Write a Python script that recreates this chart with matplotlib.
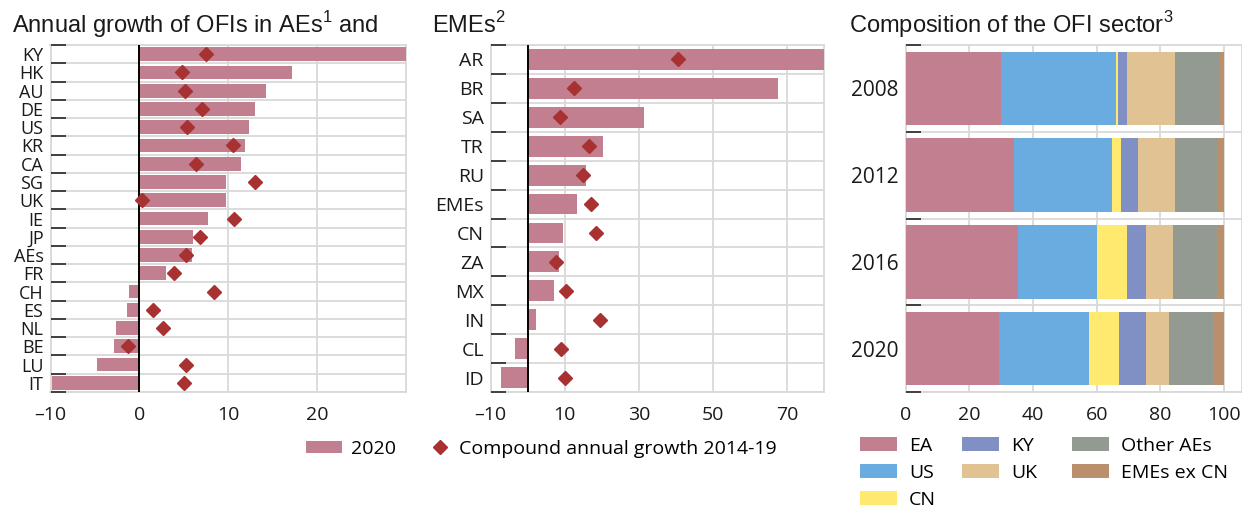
import matplotlib
matplotlib.use("Agg")
import matplotlib.pyplot as plt
import numpy as np
from matplotlib.patches import Patch
from matplotlib.lines import Line2D

plt.rcParams['font.family'] = ['Open Sans', 'DejaVu Sans']
plt.rcParams['mathtext.fontset'] = 'custom'
plt.rcParams['mathtext.rm'] = 'Liberation Sans'

# ---- data ----
ae_labels = ["KY", "HK", "AU", "DE", "US", "KR", "CA", "SG", "UK", "IE", "JP",
             "AEs", "FR", "CH", "ES", "NL", "BE", "LU", "IT"]
ae_2020 = [30.0, 17.2, 14.3, 13.0, 12.3, 11.9, 11.4, 9.7, 9.7, 7.7, 6.0,
           5.9, 3.0, -1.2, -1.4, -2.6, -2.8, -4.8, -9.8]
ae_cagr = [7.5, 4.8, 5.1, 7.1, 5.4, 10.5, 6.4, 13.0, 0.3, 10.6, 6.8,
           5.2, 3.9, 8.4, 1.5, 2.7, -1.3, 5.2, 5.0]

eme_labels = ["AR", "BR", "SA", "TR", "RU", "EMEs", "CN", "ZA", "MX", "IN", "CL", "ID"]
eme_2020 = [80.0, 67.6, 31.4, 20.3, 15.7, 13.2, 9.5, 8.4, 7.0, 2.2, -3.4, -7.2]
eme_cagr = [40.5, 12.4, 8.6, 16.6, 14.8, 17.2, 18.5, 7.6, 10.4, 19.4, 9.1, 10.1]

years = ["2008", "2012", "2016", "2020"]
comp_names = ["EA", "US", "CN", "KY", "UK", "Other AEs", "EMEs ex CN"]
comp_EA = [29.9, 34.0, 35.2, 29.3]
comp_US = [36.2, 30.8, 24.9, 28.3]
comp_CN = [0.5, 2.8, 9.4, 9.4]
comp_KY = [2.9, 5.4, 6.0, 8.5]
comp_UK = [15.1, 11.6, 8.5, 7.2]
comp_OtherAEs = [14.0, 13.5, 13.8, 13.8]
comp_EMEsExCN = [1.4, 1.9, 2.2, 3.5]

# ---- styles ----
BAR = "#c27f8f"
DIAM = "#a83232"
GRID = "#d9d9d9"
TXT = "#1a1a1a"
comp_colors = ["#c27f8f", "#6aace0", "#ffe96e", "#8190c4", "#e1c292", "#939a91", "#b98f6c"]
XFS = 14
LFS = 14
TFS = 17
TITLE_FONT = ['Liberation Sans', 'DejaVu Sans']

W, H = 1242, 509
fig = plt.figure(figsize=(W / 100, H / 100), dpi=100)


def fax(x0, x1, y0, y1):
    return fig.add_axes([x0 / W, 1 - y1 / H, (x1 - x0) / W, (y1 - y0) / H])


def style_axes(ax, n, xticks, xlim, yfs):
    ax.set_xlim(*xlim)
    ax.set_ylim(n - 0.5, -0.5)
    ax.set_xticks(xticks)
    ax.set_yticks(np.arange(n))
    ax.set_yticks(np.arange(n + 1) - 0.5, minor=True)
    ax.tick_params(axis='y', which='major', length=0, pad=5, labelsize=yfs, colors=TXT)
    ax.tick_params(axis='y', which='minor', length=11, width=1.3, direction='in', color="#333333")
    ax.tick_params(axis='x', which='both', length=0, pad=10, labelsize=XFS, colors=TXT)
    for b in np.arange(n + 1) - 0.5:
        ax.axhline(b, color=GRID, lw=1.3, zorder=0)
    ax.set_axisbelow(True)
    for s in ax.spines.values():
        s.set_color(GRID)
        s.set_linewidth(1.3)
        s.set_zorder(0.2)


def growth_panel(ax, labels, v2020, vcagr, xticks, xlim, gridx, h, yfs):
    n = len(labels)
    y = np.arange(n)
    style_axes(ax, n, xticks, xlim, yfs)
    for gx in gridx:
        ax.axvline(gx, color=GRID, lw=1.3, zorder=0)
    ax.barh(y, v2020, height=h, color=BAR, zorder=2)
    ax.axvline(0, color="black", lw=1.4, zorder=3)
    ax.plot(vcagr, y, linestyle="none", marker="D", markersize=7, color=DIAM, zorder=4)
    ax.set_yticklabels(labels)
    ax.set_xticklabels(["\u2013" + str(-t) if t < 0 else str(t) for t in xticks])


ax1 = fax(50.5, 406, 45, 392)
growth_panel(ax1, ae_labels, ae_2020, ae_cagr, [-10, 0, 10, 20], (-10, 30), [10, 20], 0.75, 13)

ax2 = fax(490.7, 824, 45, 392)
growth_panel(ax2, eme_labels, eme_2020, eme_cagr, [-10, 10, 30, 50, 70], (-10, 80),
             [10, 30, 50, 70], 0.72, 14)

ax3 = fax(905.7, 1242, 45, 392)
style_axes(ax3, len(years), [0, 20, 40, 60, 80, 100], (0, 105.6), 15)
for gx in [20, 40, 60, 80, 100]:
    ax3.axvline(gx, color=GRID, lw=1.3, zorder=0)
comp_series = [comp_EA, comp_US, comp_CN, comp_KY, comp_UK, comp_OtherAEs, comp_EMEsExCN]
left = np.zeros(len(years))
yy = np.arange(len(years))
for vals, col, name in zip(comp_series, comp_colors, comp_names):
    ax3.barh(yy, vals, left=left, height=0.85, color=col, zorder=2, label=name)
    left += np.array(vals)
ax3.set_yticklabels(years)
ax3.set_xticklabels([str(t) for t in [0, 20, 40, 60, 80, 100]])

# titles
for x, s in [(12, r"Annual growth of OFIs in AEs$^{1}$ and"), (432, r"EMEs$^{2}$"),
             (849, r"Composition of the OFI sector$^{3}$")]:
    fig.text(x / W, 1 - 33 / H, s, fontsize=TFS, color=TXT, family=TITLE_FONT, va='baseline')

# legend for growth panels
common = dict(frameon=False, fontsize=LFS, borderaxespad=0, borderpad=0)
fig.legend([Patch(facecolor=BAR, edgecolor="none")], ["2020"], loc="center left",
           bbox_to_anchor=(306 / W, 1 - 449 / H), handlelength=1.85, handleheight=0.62,
           handletextpad=0.46, **common)
fig.legend([Line2D([], [], linestyle="none", marker="D", markersize=7, color=DIAM)],
           ["Compound annual growth 2014-19"], loc="center left",
           bbox_to_anchor=(430 / W, 1 - 449 / H), handlelength=1.0, handletextpad=0.48,
           **common)

# legend for composition panel (three columns)
handles3 = [Patch(facecolor=c, edgecolor="none") for c in comp_colors]
cols = [(860, [0, 1, 2]), (962, [3, 4]), (1072, [5, 6])]
for x, idx in cols:
    fig.legend([handles3[i] for i in idx], [comp_names[i] for i in idx], loc="upper left",
               bbox_to_anchor=(x / W, 1 - 437 / H), handlelength=1.9, handleheight=0.77,
               handletextpad=0.62, labelspacing=0.45, **common)

fig.savefig("out.png", dpi=100)
